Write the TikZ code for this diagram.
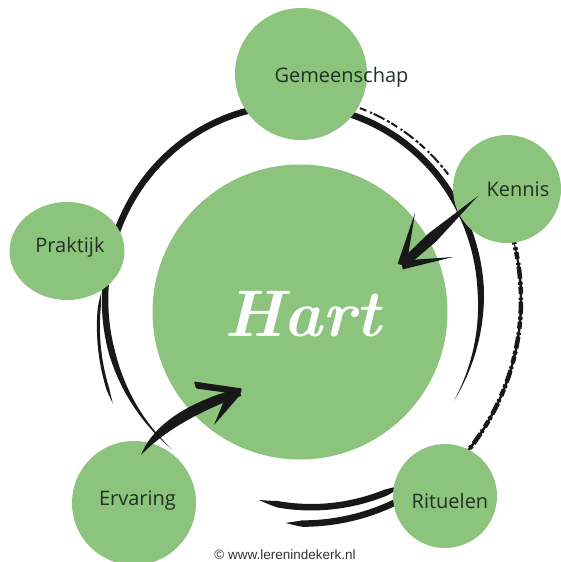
\documentclass[tikz,border=0pt]{standalone}
\usepackage{fontspec}
\newfontfamily\labelfont{Open Sans}
\newfontfamily\copyfont{Liberation Sans}
\usetikzlibrary{shapes.geometric}
\definecolor{leaf}{RGB}{140,196,125}
\definecolor{ink}{RGB}{24,24,24}
\definecolor{labeltext}{RGB}{32,48,34}
% #1 cx #2 cy #3 a #4 b #5 rx #6 ry #7 drift #8 width
\newcommand\brushstroke[8]{%
 \fill[ink] plot[domain=#3:#4, samples=100]
  ({#1+(#5+(#7)*((\x-(#3))/((#4)-(#3)))+0.5*#8*min(1,2.5*abs(sin(180*((\x-(#3))/((#4)-(#3)))))))*cos(\x)},
   {#2-(#6+(#7)*((\x-(#3))/((#4)-(#3)))+0.5*#8*min(1,2.5*abs(sin(180*((\x-(#3))/((#4)-(#3)))))))*sin(\x)})
  -- plot[domain=#4:#3, samples=100]
  ({#1+(#5+(#7)*((\x-(#3))/((#4)-(#3)))-0.5*#8*min(1,2.5*abs(sin(180*((\x-(#3))/((#4)-(#3)))))))*cos(\x)},
   {#2-(#6+(#7)*((\x-(#3))/((#4)-(#3)))-0.5*#8*min(1,2.5*abs(sin(180*((\x-(#3))/((#4)-(#3)))))))*sin(\x)})
  -- cycle;}
\newcommand\drybrush[8]{%
 \draw[ink, line width=#8, drystyle] plot[domain=#3:#4, samples=60]
  ({#1+(#5+(#7)*((\x-(#3))/((#4)-(#3))))*cos(\x)},{#2-(#6+(#7)*((\x-(#3))/((#4)-(#3))))*sin(\x)});}
\tikzset{
  blob/.style={circle, fill=leaf, inner sep=0pt},
  blobell/.style={ellipse, fill=leaf, inner sep=0pt},
  lbl/.style={font=\labelfont\fontsize{20}{24}\selectfont, text=labeltext, inner sep=0pt, anchor=base},
  drystyle/.style={dash pattern=on 7pt off 2pt on 3pt off 3pt on 12pt off 2pt on 2pt off 4pt},
}
\begin{document}
\begin{tikzpicture}[x=1pt,y=-1pt]
\useasboundingbox (0,0) rectangle (560,562);
% brush ring
\brushstroke{293}{300}{-31}{230}{188}{195}{0}{6.5}
\brushstroke{293}{300}{178}{209}{192}{199}{14}{3}
\brushstroke{293}{300}{-50}{17}{228}{235}{0}{2.5}
\drybrush{293}{300}{-50}{17}{228}{235}{0}{4.5pt}
\drybrush{293}{300}{38}{72}{197}{204}{0}{2pt}
\brushstroke{293}{300}{-100}{-58}{196}{203}{14}{6.5}
\brushstroke{293}{300}{-92}{-58}{216}{223}{6}{6.5}
% circles
\node[blob, minimum size=132pt] (gem) at (301,74) {};
\node[blobell, minimum width=115pt, minimum height=98pt] (prak) at (67,251) {};
\node[blob, minimum size=108pt] (ken) at (507,189) {};
\node[blob, minimum size=124pt] (erv) at (134,503) {};
\node[blob, minimum size=104pt] (rit) at (445,496) {};
\node[blob, minimum size=295pt] (hart) at (300,312) {};
% Kennis arrow
\coordinate (ks) at (478,196);
\coordinate (kt) at (402,265);
\fill[ink] (ks) -- (436.1,241.5) -- (405,268) -- (399,262) -- (428.7,233.3) -- cycle;
\fill[ink] (397.6,263.9) -- (415,213) -- (406.4,266.1) -- cycle;
\fill[ink] (401.3,260.6) -- (453,257) -- (402.7,269.4) -- cycle;
% Ervaring arrow
\coordinate (es) at (141,455);
\coordinate (et) at (240,392);
\fill[ink] (es) .. controls (155,420) and (197,399.5) .. (239,388) -- (241,396) .. controls (202,410) and (165,430) .. (es) -- cycle;
\fill[ink, rounded corners=1pt] (194,381.5) -- (242,388.5) -- (240,394.5) -- (196,388.5) -- cycle;
\fill[ink] (228,391) -- (214,425) -- (241,394) -- cycle;
% labels
\node[lbl] (tgem) at (341.5,82) {Gemeenschap};
\node[lbl] (tprak) at (70,252) {Praktijk};
\node[lbl] (tken) at (518,196) {Kennis};
\node[lbl] (terv) at (137.5,505) {Ervaring};
\node[lbl] (trit) at (450,508) {Rituelen};
\node[font=\fontsize{66}{70}\selectfont\bfseries\itshape, text=white, inner sep=0pt, anchor=base] (thart) at (303,336) {Hart};
\node[font=\copyfont\fontsize{13.5}{16}\selectfont, text=black!80, inner sep=0pt, anchor=base] (copy) at (285,559) {© www.lerenindekerk.nl};
\end{tikzpicture}
\end{document}
